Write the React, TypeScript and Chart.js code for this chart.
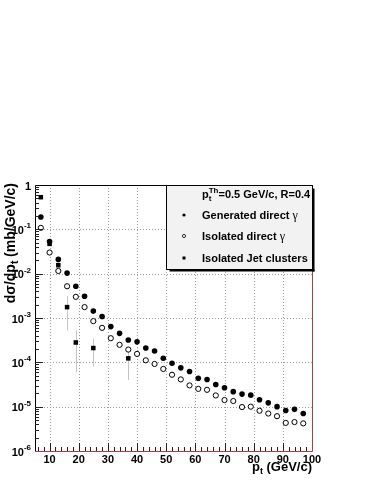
import React, { useEffect, useRef } from 'react';
import { Chart, registerables } from 'chart.js';

Chart.register(...registerables);

// ---- data ----
const ptValues = [7, 10, 13, 16, 19, 22, 25, 28, 31, 34, 37, 40, 43, 46, 49, 52, 55, 58, 61, 64, 67, 70, 73, 76, 79, 82, 85, 88, 91, 94, 97];
const generatedGamma = [0.19, 0.053, 0.021, 0.0103, 0.0052, 0.0031, 0.00143, 0.00108, 0.00064, 0.00045, 0.00032, 0.00029, 0.00021, 0.00018, 0.000124, 0.000095, 0.000075, 0.000062, 0.0000436, 0.000041, 0.0000317, 0.0000268, 0.0000218, 0.0000192, 0.0000182, 0.0000143, 0.0000122, 0.00001, 0.0000082, 0.0000087, 0.000007];
const isolatedGamma = [0.108, 0.030, 0.0115, 0.0052, 0.003, 0.00176, 0.00085, 0.0006, 0.00035, 0.000248, 0.000194, 0.000155, 0.000111, 0.000092, 0.000071, 0.0000525, 0.0000412, 0.0000302, 0.0000252, 0.000024, 0.0000179, 0.0000141, 0.0000134, 0.0000098, 0.00001, 0.0000081, 0.000007, 0.0000061, 0.0000043, 0.0000045, 0.0000042];
const jetPt = [7, 10, 13, 16, 19, 25, 37];
const jetValues = [0.53, 0.047, 0.0155, 0.00176, 0.00028, 0.00021, 0.000123];
const jetErrLow = [null, null, null, 0.00052, 0.000059, 0.00008, 0.00004];
const jetErrHigh = [null, null, null, 0.0031, 0.00052, 0.00034, 0.000185];

const xTickValues = [10, 20, 30, 40, 50, 60, 70, 80, 90, 100];
const yDecadeExponents = [-6, -5, -4, -3, -2, -1, 0];

const legendHeader = { base: 'p', sub: 't', sup: 'Th', rest: '=0.5 GeV/c, R=0.4' };
const legendLabels = ['Generated direct ', 'Isolated direct ', 'Isolated Jet clusters'];
const legendGreek = ['γ', 'γ', ''];
const xTitle = { base: 'p', sub: 't', rest: ' (GeV/c)' };
const yTitle = { base: 'dσ/dp', sub: 't', rest: ' (mb/GeV/c)' };

const FONT = '"Liberation Sans", Arial, Helvetica, sans-serif';
const RED = '#b83a3a';

const rootPlugin = {
  id: 'rootStyle',
  beforeDatasetsDraw(chart: any) {
    const { ctx, chartArea: a, scales } = chart;
    const xs = scales.x, ys = scales.y;
    ctx.save();
    // grid
    ctx.strokeStyle = '#9a9a9a';
    ctx.lineWidth = 1;
    ctx.setLineDash([1, 2]);
    xTickValues.forEach((v) => {
      const px = Math.round(xs.getPixelForValue(v)) + 0.5;
      if (px > a.left + 1 && px < a.right - 1) {
        ctx.beginPath(); ctx.moveTo(px, a.top); ctx.lineTo(px, a.bottom); ctx.stroke();
      }
    });
    yDecadeExponents.forEach((e) => {
      const py = Math.round(ys.getPixelForValue(Math.pow(10, e))) + 0.5;
      if (py > a.top + 1 && py < a.bottom - 1) {
        ctx.beginPath(); ctx.moveTo(a.left, py); ctx.lineTo(a.right, py); ctx.stroke();
      }
    });
    ctx.setLineDash([]);
    // error bars
    ctx.strokeStyle = '#c4c4c4';
    jetPt.forEach((x, i) => {
      const lo = jetErrLow[i], hi = jetErrHigh[i];
      if (lo == null || hi == null) return;
      const px = Math.round(xs.getPixelForValue(x)) + 0.5;
      ctx.beginPath();
      ctx.moveTo(px, ys.getPixelForValue(hi));
      ctx.lineTo(px, ys.getPixelForValue(lo));
      ctx.stroke();
    });
    ctx.restore();
  },
  afterDatasetsDraw(chart: any) {
    const { ctx, chartArea: a, scales } = chart;
    const xs = scales.x, ys = scales.y;
    ctx.save();
    // frame
    ctx.lineWidth = 1;
    ctx.strokeStyle = RED;
    ctx.beginPath();
    ctx.moveTo(a.left, a.bottom + 0.5); ctx.lineTo(a.right + 0.5, a.bottom + 0.5);
    ctx.lineTo(a.right + 0.5, a.top);
    ctx.stroke();
    ctx.strokeStyle = '#000';
    ctx.beginPath();
    ctx.moveTo(a.left + 0.5, a.bottom); ctx.lineTo(a.left + 0.5, a.top + 0.5); ctx.lineTo(a.right, a.top + 0.5);
    ctx.stroke();

    // x ticks
    ctx.strokeStyle = '#222';
    for (let v = 6; v <= 100; v += 2) {
      const px = Math.round(xs.getPixelForValue(v)) + 0.5;
      const len = v % 10 === 0 ? 8 : 4;
      if (px >= a.right) continue;
      ctx.beginPath(); ctx.moveTo(px, a.bottom); ctx.lineTo(px, a.bottom - len); ctx.stroke();
    }
    // y ticks
    for (let e = -6; e <= 0; e++) {
      const py = Math.round(ys.getPixelForValue(Math.pow(10, e))) + 0.5;
      if (e > -6 && e < 0) {
        ctx.beginPath(); ctx.moveTo(a.left, py); ctx.lineTo(a.left + 8, py); ctx.stroke();
      }
      if (e < 0) {
        for (let m = 2; m <= 9; m++) {
          const pm = Math.round(ys.getPixelForValue(m * Math.pow(10, e))) + 0.5;
          ctx.beginPath(); ctx.moveTo(a.left, pm); ctx.lineTo(a.left + 4, pm); ctx.stroke();
        }
      }
    }

    // x tick labels
    ctx.fillStyle = '#000';
    ctx.font = `bold 11px ${FONT}`;
    ctx.textAlign = 'center';
    ctx.textBaseline = 'alphabetic';
    xTickValues.forEach((v) => {
      const px = xs.getPixelForValue(v);
      ctx.fillText(String(v), px, a.bottom + 12);
    });

    // y tick labels
    ctx.textAlign = 'left';
    yDecadeExponents.forEach((e) => {
      const py = ys.getPixelForValue(Math.pow(10, e));
      const right = a.left - 4;
      if (e === 0) {
        ctx.font = `bold 11px ${FONT}`;
        const w = ctx.measureText('1').width;
        ctx.fillText('1', right - w, py + 5);
        return;
      }
      const sup = String(e);
      ctx.font = `bold 8px ${FONT}`;
      const ws = ctx.measureText(sup).width;
      ctx.font = `bold 11px ${FONT}`;
      const wb = ctx.measureText('10').width;
      const start = right - ws - wb;
      ctx.fillText('10', start, py + 4.5);
      ctx.font = `bold 8px ${FONT}`;
      ctx.fillText(sup, start + wb, py - 1);
    });

    // x title
    {
      ctx.font = `bold 13px ${FONT}`;
      const wb = ctx.measureText(xTitle.base).width;
      const wr = ctx.measureText(xTitle.rest).width;
      ctx.font = `bold 9px ${FONT}`;
      const wsub = ctx.measureText(xTitle.sub).width;
      const total = wb + wsub + wr;
      let x = a.right - total;
      const y = a.bottom + 20;
      ctx.font = `bold 13px ${FONT}`;
      ctx.fillText(xTitle.base, x, y); x += wb;
      ctx.font = `bold 9px ${FONT}`;
      ctx.fillText(xTitle.sub, x, y + 3); x += wsub;
      ctx.font = `bold 13px ${FONT}`;
      ctx.fillText(xTitle.rest, x, y);
    }

    // y title (rotated)
    {
      ctx.save();
      ctx.translate(15, a.top - 2);
      ctx.rotate(-Math.PI / 2);
      ctx.font = `bold 14px ${FONT}`;
      const wb = ctx.measureText(yTitle.base).width;
      const wr = ctx.measureText(yTitle.rest).width;
      ctx.font = `bold 10px ${FONT}`;
      const wsub = ctx.measureText(yTitle.sub).width;
      const total = wb + wsub + wr;
      let x = -total;
      ctx.font = `bold 14px ${FONT}`;
      ctx.fillText(yTitle.base, x, 0); x += wb;
      ctx.font = `bold 10px ${FONT}`;
      ctx.fillText(yTitle.sub, x, 3); x += wsub;
      ctx.font = `bold 14px ${FONT}`;
      ctx.fillText(yTitle.rest, x, 0);
      ctx.restore();
    }

    // legend box
    {
      const L = 166.5, T = a.top + 0.5, R = a.right + 0.5, B = 269.5;
      ctx.fillStyle = '#000';
      ctx.fillRect(L + 3, B, R - L - 1, 2);
      ctx.fillRect(R, T + 3, 2, B - T - 1);
      ctx.fillStyle = '#f2f2f2';
      ctx.fillRect(L, T, R - L, B - T);
      ctx.strokeStyle = '#000';
      ctx.lineWidth = 1;
      ctx.strokeRect(L, T, R - L, B - T);

      const tx = 202;
      ctx.fillStyle = '#000';
      // header
      let x = tx;
      const hy = 198;
      ctx.font = `bold 11px ${FONT}`;
      ctx.fillText(legendHeader.base, x, hy); x += ctx.measureText(legendHeader.base).width;
      ctx.font = `bold 8px ${FONT}`;
      ctx.fillText(legendHeader.sub, x, hy + 3);
      ctx.fillText(legendHeader.sup, x, hy - 5);
      x += Math.max(ctx.measureText(legendHeader.sub).width, ctx.measureText(legendHeader.sup).width);
      ctx.font = `bold 11px ${FONT}`;
      ctx.fillText(legendHeader.rest, x, hy);

      const rows = [215, 236, 258];
      legendLabels.forEach((lab, i) => {
        const y = rows[i];
        ctx.font = `bold 11px ${FONT}`;
        ctx.fillStyle = '#000';
        ctx.fillText(lab, tx, y + 4);
        const w = ctx.measureText(lab).width;
        if (legendGreek[i]) {
          ctx.font = `12px "Liberation Serif", serif`;
          ctx.fillText(legendGreek[i], tx + w, y + 4);
        }
        // marker
        const mx = 184;
        ctx.beginPath();
        if (i === 0) {
          ctx.arc(mx, y, 1.6, 0, Math.PI * 2); ctx.fill();
        } else if (i === 1) {
          ctx.arc(mx, y, 1.6, 0, Math.PI * 2); ctx.lineWidth = 0.8; ctx.stroke();
        } else {
          ctx.fillRect(mx - 1.5, y - 1.5, 3, 3);
        }
      });
    }
    ctx.restore();
  },
};

export default function App() {
  const ref = useRef<HTMLCanvasElement>(null);
  useEffect(() => {
    if (!ref.current) return;
    const chart = new Chart(ref.current, {
      type: 'scatter',
      data: {
        datasets: [
          {
            label: 'Generated direct γ',
            data: ptValues.map((x, i) => ({ x, y: generatedGamma[i] })),
            pointStyle: 'circle',
            pointRadius: 2.8,
            backgroundColor: '#000',
            borderColor: '#000',
            borderWidth: 0,
            showLine: false,
          },
          {
            label: 'Isolated direct γ',
            data: ptValues.map((x, i) => ({ x, y: isolatedGamma[i] })),
            pointStyle: 'circle',
            pointRadius: 2.6,
            backgroundColor: '#fff',
            borderColor: '#000',
            borderWidth: 1,
            showLine: false,
          },
          {
            label: 'Isolated Jet clusters',
            data: jetPt.map((x, i) => ({ x, y: jetValues[i] })),
            pointStyle: 'rect',
            pointRadius: 3.2,
            backgroundColor: '#000',
            borderColor: '#000',
            borderWidth: 0,
            showLine: false,
          },
        ],
      },
      options: {
        responsive: false,
        devicePixelRatio: 1,
        animation: false,
        layout: { padding: { left: 35, right: 62, top: 185, bottom: 33 } },
        plugins: { legend: { display: false }, tooltip: { enabled: false } },
        scales: {
          x: { type: 'linear', min: 5, max: 100, display: false },
          y: { type: 'logarithmic', min: 1e-6, max: 1, display: false },
        },
      },
      plugins: [rootPlugin],
    });
    return () => chart.destroy();
  }, []);
  return (
    <div style={{ position: 'fixed', left: 0, top: 0, width: 374, height: 484, background: '#fff' }}>
      <canvas ref={ref} width={374} height={484} style={{ display: 'block', width: 374, height: 484 }} />
    </div>
  );
}
